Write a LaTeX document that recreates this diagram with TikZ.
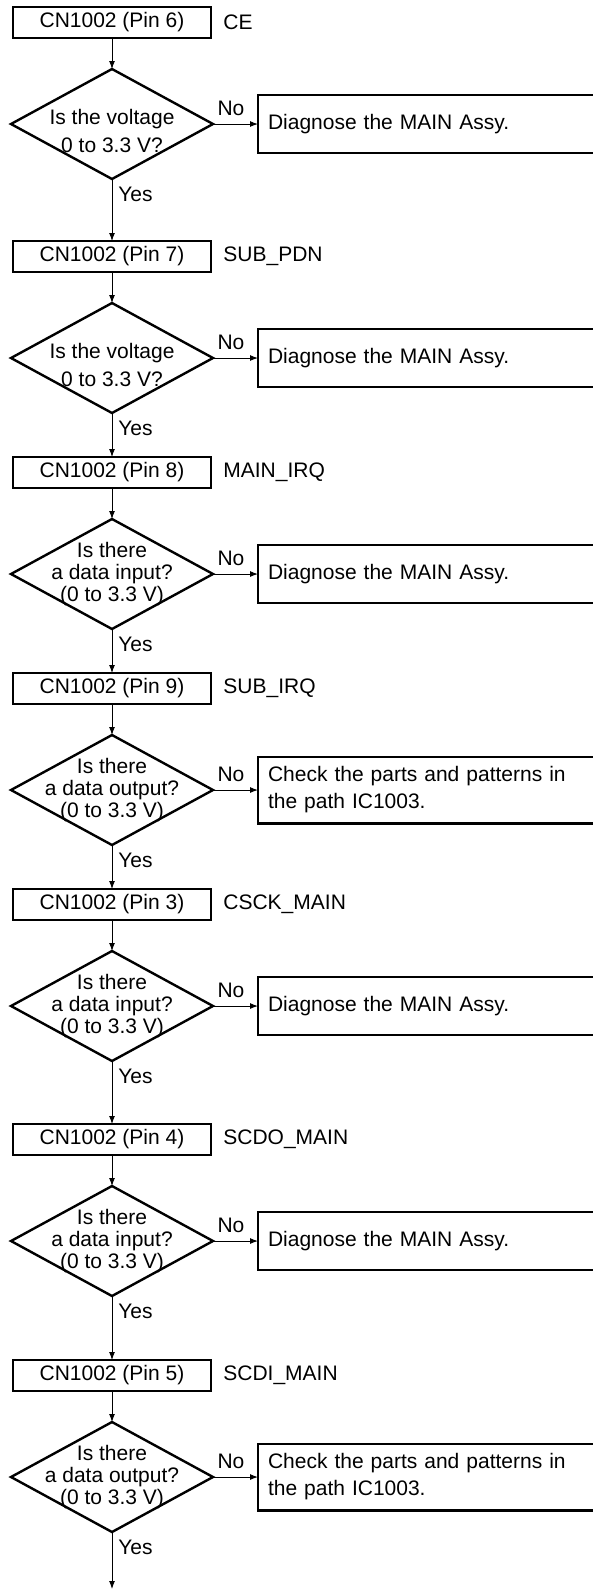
\documentclass[tikz,border=0pt]{standalone}
\usepackage{fontspec}
\setmainfont{Liberation Sans}
\usetikzlibrary{
  arrows.meta,
  positioning,
  shapes.geometric
}
\tikzset{
  pinbox/.style    = {draw, rectangle, line width=1.2pt, outer sep=0pt,
                      minimum width=99pt, minimum height=15.5pt, inner sep=0pt,
                      font=\fontsize{10.5pt}{12pt}\selectfont},
  decision/.style  = {draw, diamond, line width=1.2pt, outer sep=0pt,
                      minimum width=101pt, minimum height=55pt, inner sep=0pt},
  question/.style  = {align=center, inner sep=0pt,
                      font=\fontsize{10.5pt}{11pt}\selectfont},
  question2/.style = {question, yshift=-3.5pt,
                      font=\fontsize{10.5pt}{14pt}\selectfont},
  action/.style    = {draw, rectangle, line width=1.2pt, outer sep=0pt,
                      minimum height=29pt, text width=159.5pt, align=left,
                      inner sep=5pt, font=\fontsize{10.5pt}{13.5pt}\selectfont},
  signal/.style    = {inner sep=0pt, font=\fontsize{10.5pt}{12pt}\selectfont},
  lbl/.style       = {inner sep=2pt, font=\fontsize{10.5pt}{12pt}\selectfont},
  arrow/.style     = {-{Latex[length=4pt,width=3pt]}, line width=0.5pt},
}

\begin{document}
\begin{tikzpicture}
\useasboundingbox (0,0) rectangle (296.5pt,-796pt);

% Pin 6
\node[pinbox] (b1) at (56pt,-11.25pt) {CN1002 (Pin 6)};
\node[signal, right=6pt of b1] (s1) {CE};
\node[decision, below=15.5pt of b1] (d1) {};
\node[question2] (q1) at (d1) {Is the voltage\\0 to 3.3 V?};
\node[action, right=22.5pt of d1] (r1) {Diagnose the MAIN Assy.};
\node[lbl, anchor=west] (y1) at ([xshift=1pt,yshift=-7.5pt]d1.south) {Yes};
\draw[arrow] (b1) -- (d1);
\draw[arrow] (d1) -- node[lbl, above=2pt, pos=0.4] (n1) {No} (r1);

% Pin 7
\node[pinbox, below=31pt of d1] (b2) {CN1002 (Pin 7)};
\node[signal, right=6pt of b2] (s2) {SUB\_PDN};
\node[decision, below=15.5pt of b2] (d2) {};
\node[question2] (q2) at (d2) {Is the voltage\\0 to 3.3 V?};
\node[action, right=22.5pt of d2] (r2) {Diagnose the MAIN Assy.};
\node[lbl, anchor=west] (y2) at ([xshift=1pt,yshift=-7.5pt]d2.south) {Yes};
\draw[arrow] (d1) -- (b2);
\draw[arrow] (b2) -- (d2);
\draw[arrow] (d2) -- node[lbl, above=2pt, pos=0.4] (n2) {No} (r2);

% Pin 8
\node[pinbox, below=22pt of d2] (b3) {CN1002 (Pin 8)};
\node[signal, right=6pt of b3] (s3) {MAIN\_IRQ};
\node[decision, below=15.5pt of b3] (d3) {};
\node[question] (q3) at (d3) {Is there\\a data input?\\(0 to 3.3 V)};
\node[action, right=22.5pt of d3] (r3) {Diagnose the MAIN Assy.};
\node[lbl, anchor=west] (y3) at ([xshift=1pt,yshift=-7.5pt]d3.south) {Yes};
\draw[arrow] (d2) -- (b3);
\draw[arrow] (b3) -- (d3);
\draw[arrow] (d3) -- node[lbl, above=2pt, pos=0.4] (n3) {No} (r3);

% Pin 9
\node[pinbox, below=22pt of d3] (b4) {CN1002 (Pin 9)};
\node[signal, right=6pt of b4] (s4) {SUB\_IRQ};
\node[decision, below=15.5pt of b4] (d4) {};
\node[question] (q4) at (d4) {Is there\\a data output?\\(0 to 3.3 V)};
\node[action, right=22.5pt of d4] (r4)
   {Check the parts and patterns in\\the path IC1003.};
\node[lbl, anchor=west] (y4) at ([xshift=1pt,yshift=-7.5pt]d4.south) {Yes};
\draw[arrow] (d3) -- (b4);
\draw[arrow] (b4) -- (d4);
\draw[arrow] (d4) -- node[lbl, above=2pt, pos=0.4] (n4) {No} (r4);

% Pin 3
\node[pinbox, below=22pt of d4] (b5) {CN1002 (Pin 3)};
\node[signal, right=6pt of b5] (s5) {CSCK\_MAIN};
\node[decision, below=15.5pt of b5] (d5) {};
\node[question] (q5) at (d5) {Is there\\a data input?\\(0 to 3.3 V)};
\node[action, right=22.5pt of d5] (r5) {Diagnose the MAIN Assy.};
\node[lbl, anchor=west] (y5) at ([xshift=1pt,yshift=-7.5pt]d5.south) {Yes};
\draw[arrow] (d4) -- (b5);
\draw[arrow] (b5) -- (d5);
\draw[arrow] (d5) -- node[lbl, above=2pt, pos=0.4] (n5) {No} (r5);

% Pin 4
\node[pinbox, below=31.5pt of d5] (b6) {CN1002 (Pin 4)};
\node[signal, right=6pt of b6] (s6) {SCDO\_MAIN};
\node[decision, below=15.5pt of b6] (d6) {};
\node[question] (q6) at (d6) {Is there\\a data input?\\(0 to 3.3 V)};
\node[action, right=22.5pt of d6] (r6) {Diagnose the MAIN Assy.};
\node[lbl, anchor=west] (y6) at ([xshift=1pt,yshift=-7.5pt]d6.south) {Yes};
\draw[arrow] (d5) -- (b6);
\draw[arrow] (b6) -- (d6);
\draw[arrow] (d6) -- node[lbl, above=2pt, pos=0.4] (n6) {No} (r6);

% Pin 5
\node[pinbox, below=32pt of d6] (b7) {CN1002 (Pin 5)};
\node[signal, right=6pt of b7] (s7) {SCDI\_MAIN};
\node[decision, below=15.5pt of b7] (d7) {};
\node[question] (q7) at (d7) {Is there\\a data output?\\(0 to 3.3 V)};
\node[action, right=22.5pt of d7] (r7)
   {Check the parts and patterns in\\the path IC1003.};
\node[lbl, anchor=west] (y7) at ([xshift=1pt,yshift=-7.5pt]d7.south) {Yes};
\coordinate[below=28.5pt of d7] (out);
\draw[arrow] (d6) -- (b7);
\draw[arrow] (b7) -- (d7);
\draw[arrow] (d7) -- node[lbl, above=2pt, pos=0.4] (n7) {No} (r7);
\draw[arrow] (d7) -- (out);
\end{tikzpicture}
\end{document}
